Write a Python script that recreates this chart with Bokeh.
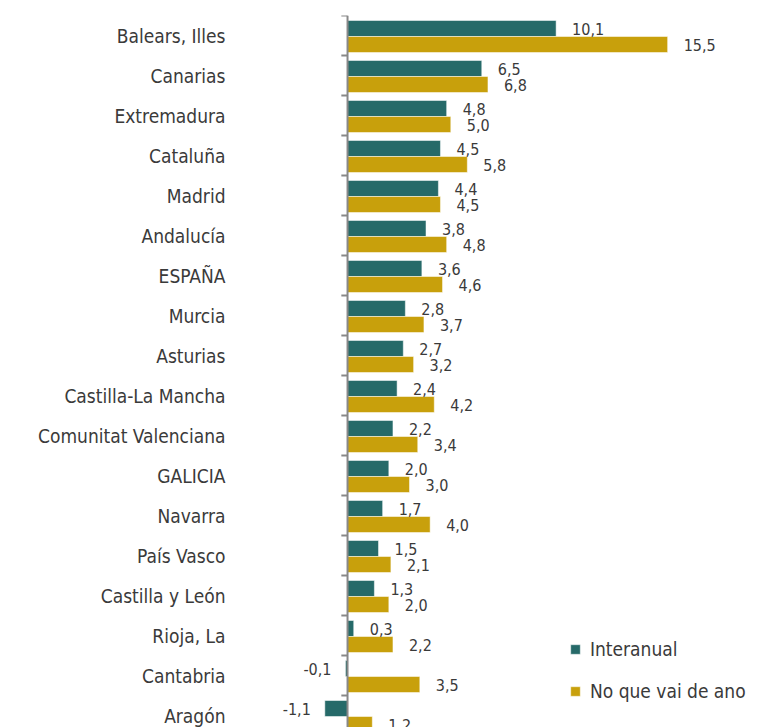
from bokeh.plotting import figure
from bokeh.models import Range1d, FixedTicker, ColumnDataSource, Span
from bokeh.transform import dodge
from bokeh.core.properties import value
from bokeh.embed import file_html
from bokeh.resources import INLINE

regions = ["Balears, Illes", "Canarias", "Extremadura", "Cataluña", "Madrid",
           "Andalucía", "ESPAÑA", "Murcia", "Asturias", "Castilla-La Mancha",
           "Comunitat Valenciana", "GALICIA", "Navarra", "País Vasco",
           "Castilla y León", "Rioja, La", "Cantabria", "Aragón"]
interanual = [10.1, 6.5, 4.8, 4.5, 4.4, 3.8, 3.6, 2.8, 2.7, 2.4, 2.2, 2.0, 1.7,
              1.5, 1.3, 0.3, -0.1, -1.1]
no_que_vai = [15.5, 6.8, 5.0, 5.8, 4.5, 4.8, 4.6, 3.7, 3.2, 4.2, 3.4, 3.0, 4.0,
              2.1, 2.0, 2.2, 3.5, 1.2]
series_names = ["Interanual", "No que vai de ano"]
series_colors = ["#266A69", "#C8A00C"]

FONT = "DejaVu Sans Condensed"
TEXT_COLOR = "#3a3a3a"

n = len(regions)
idx = list(range(n))


def fmt(v):
    return f"{v:.1f}".replace(".", ",")


src = ColumnDataSource(dict(
    y=idx,
    v1=interanual,
    v2=no_que_vai,
    l1=[fmt(v) for v in interanual],
    l2=[fmt(v) for v in no_que_vai],
    a1=["left" if v >= 0 else "right" for v in interanual],
    a2=["left" if v >= 0 else "right" for v in no_que_vai],
    o1=[16 if v >= 0 else -14 for v in interanual],
    o2=[16 if v >= 0 else -14 for v in no_que_vai],
))

p = figure(width=764, height=727, output_backend="svg", toolbar_location=None,
           x_axis_location=None,
           x_range=Range1d(-5.57, 20.19), y_range=Range1d(n - 0.7, -0.5),
           min_border_left=232, min_border_right=0, min_border_top=15,
           min_border_bottom=0)
p.outline_line_color = None
p.grid.visible = False
p.background_fill_color = "white"

yax = p.yaxis[0]
yax.ticker = FixedTicker(ticks=idx)
yax.major_label_overrides = {i: r for i, r in zip(idx, regions)}
yax.axis_line_color = None
yax.major_tick_line_color = None
yax.minor_tick_line_color = None
yax.major_tick_out = 0
yax.major_tick_in = 0
yax.minor_tick_out = 0
yax.major_label_standoff = 7
yax.major_label_text_font = FONT
yax.major_label_text_font_size = "19px"
yax.major_label_text_color = TEXT_COLOR

off1, off2 = -0.175, 0.225
r1 = p.hbar(y=dodge("y", off1, range=p.y_range), left=0, right="v1", height=0.4,
            source=src, fill_color=series_colors[0], line_color="white",
            line_width=0.5, legend_label=series_names[0])
r2 = p.hbar(y=dodge("y", off2, range=p.y_range), left=0, right="v2", height=0.4,
            source=src, fill_color=series_colors[1], line_color="white",
            line_width=0.5, legend_label=series_names[1])

for lab, xcol, acol, ocol, off in [("l1", "v1", "a1", "o1", off1),
                                   ("l2", "v2", "a2", "o2", off2)]:
    p.text(x=xcol, y=dodge("y", off, range=p.y_range), text=lab, source=src,
           x_offset=ocol, text_align=acol, text_baseline="middle",
           text_font=value(FONT), text_font_size=value("16px"),
           text_color=TEXT_COLOR)

# axis line at zero with tick marks at category boundaries
p.add_layout(Span(location=0, dimension="height", line_color="#888888",
                  line_width=2))
bounds = [i - 0.5 for i in range(n + 1)]
p.segment(x0=[-0.3] * len(bounds), x1=[0] * len(bounds), y0=bounds, y1=bounds,
          line_color="#888888", line_width=2)

lg = p.legend[0]
lg.location = (337, 25)
lg.glyph_width = 12
lg.glyph_height = 12
lg.label_height = 20
lg.spacing = 20
lg.padding = 0
lg.margin = 0
lg.label_standoff = 9
lg.border_line_color = None
lg.background_fill_alpha = 0
lg.label_text_font = FONT
lg.label_text_font_size = "19px"
lg.label_text_color = TEXT_COLOR

open("out.html", "w").write(file_html(p, INLINE))
